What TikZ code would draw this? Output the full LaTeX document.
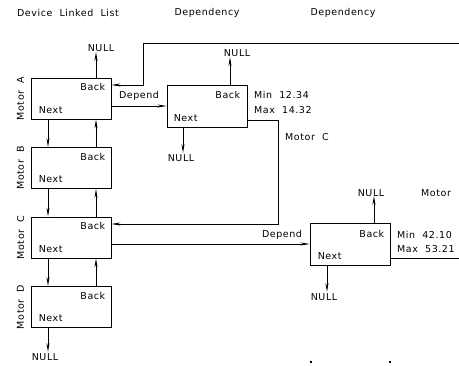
\documentclass[tikz,border=0pt]{standalone}
\usepackage{fontspec}
\setmainfont{DejaVu Sans}[LetterSpace=6]
\usetikzlibrary{arrows.meta}
\begin{document}
\begin{tikzpicture}[x=1pt,y=-1pt,
  every node/.style={font=\fontsize{9.5}{11}\selectfont, inner sep=0pt},
  mbox/.style={draw, line width=0.9pt, minimum width=80pt, minimum height=41pt},
  lnk/.style={line width=0.9pt},
  arr/.style={line width=0.9pt, -{Stealth[length=9pt,width=3pt]}}]
\useasboundingbox (0,0) rectangle (459,366);
% headers
\node (h1) at (68,13) {Device\ \ Linked\ \ List};
\node (h2) at (207,13) {Dependency};
\node (h3) at (343,13) {Dependency};
% linked list boxes
\node[mbox] (A) at (71,98.5) {};
\node[mbox] (B) at (71,168) {};
\node[mbox] (C) at (71,237.5) {};
\node[mbox] (D) at (71,307) {};
\foreach \b/\t in {A/A,B/B,C/C,D/D}{
  \node[anchor=north east] (\b back) at ([xshift=-6pt,yshift=-6pt]\b.north east) {Back};
  \node[anchor=south west] (\b next) at ([xshift=8pt,yshift=6pt]\b.south west) {Next};
  \node[rotate=90] (\b lab) at ([xshift=-10pt]\b.west) {Motor\ \ \t};
}
% dependency boxes
\node[mbox, minimum height=42pt] (E) at (207,106) {};
\node[mbox, minimum height=42pt] (F) at (350,244) {};
\node[anchor=north east] (Eback) at ([xshift=-7pt,yshift=-7pt]E.north east) {Back};
\node[anchor=south west] (Enext) at ([xshift=7pt,yshift=6pt]E.south west) {Next};
\node[anchor=north east] (Fback) at ([xshift=-6pt,yshift=-8pt]F.north east) {Back};
\node[anchor=south west] (Fnext) at ([xshift=8pt,yshift=6pt]F.south west) {Next};
\node[anchor=west] (Emin) at (254,95) {Min\ \ 12.34};
\node[anchor=west] (Emax) at (254,110) {Max\ \ 14.32};
\node[anchor=west] (Fmin) at (397,235) {Min\ \ 42.10};
\node[anchor=west] (Fmax) at (397,249) {Max\ \ 53.21};
\node[anchor=west] (mc) at (285,137) {Motor\ \ C};
\node[anchor=west] (mo) at (421,193) {Motor};
\node (d1) at (139,96) {Depend};
\node (d2) at (282,235) {Depend};
% NULL labels
\node (n1) at (101,48) {NULL};
\node (n2) at (45,357) {NULL};
\node (n3) at (237,53) {NULL};
\node (n4) at (181,158) {NULL};
\node (n5) at (371,193) {NULL};
\node (n6) at (324,297) {NULL};
% next / back chain
\foreach \u/\v in {A/B,B/C,C/D}{
  \draw[arr] (48,0 |- \u.south) -- (48,0 |- \v.north);
  \draw[arr] (96,0 |- \v.north) -- (96,0 |- \u.south);
}
\coordinate (t1) at (96,52);
\coordinate (t2) at (48,352);
\draw[arr] (96,0 |- A.north) -- (t1);
\draw[arr] (48,0 |- D.south) -- (t2);
% dependency 1
\coordinate (top) at (459,43);
\draw[arr] (top) -| (143,85) -- (A.east |- 0,85);
\draw[arr] (A.east |- E.west) -- (E.west);
\coordinate (t3) at (230,57);
\coordinate (t4) at (183,153);
\draw[arr] (230,0 |- E.north) -- (t3);
\draw[arr] (183,0 |- E.south) -- (t4);
\draw[arr] (E.east |- 0,120) -- (278,120) -- (278,224) -- (C.east |- 0,224);
% dependency 2
\draw[arr] (C.east |- F.west) -- (F.west);
\coordinate (t5) at (374,196);
\coordinate (t6) at (327,292);
\draw[arr] (374,0 |- F.north) -- (t5);
\draw[arr] (327,0 |- F.south) -- (t6);
\coordinate (rt) at (459,258);
\draw[lnk] (F.east |- rt) -- (rt);
% tiny marks
\fill (310.3,361.3) rectangle (312,362.8);
\fill (389.3,361.3) rectangle (391,362.8);
\end{tikzpicture}
\end{document}
